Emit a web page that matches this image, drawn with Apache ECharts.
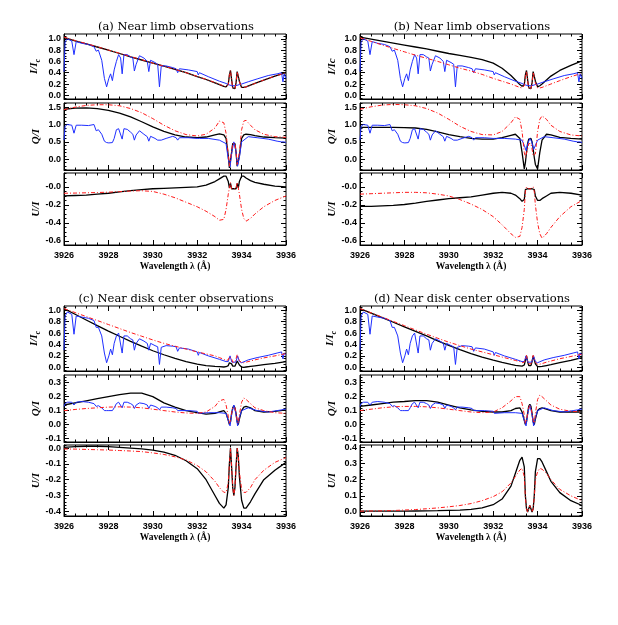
<!DOCTYPE html>
<html>
<head>
<meta charset="utf-8">
<script src="https://cdn.jsdelivr.net/npm/echarts@6/dist/echarts.min.js"></script>
<style>
html, body { margin: 0; padding: 0; background: #fff; }
#main { width: 618px; height: 625px; }
</style>
</head>
<body>
<div id="main"></div>
<script>
// wavelength grid for the model curves (denser in the Ca II K core)
var wl = [3926, 3926.5, 3927, 3927.5, 3928, 3928.5, 3929, 3929.5, 3930, 3930.5, 3931, 3931.5,
  3932, 3932.4, 3932.8, 3933.0, 3933.2, 3933.3, 3933.4, 3933.45, 3933.5, 3933.55, 3933.6,
  3933.65, 3933.7, 3933.75, 3933.8, 3933.85, 3933.9, 3934.0, 3934.1, 3934.2, 3934.4, 3934.6,
  3935, 3935.5, 3936];

// wavelength grid for the observed profiles
var obsWl = [3926.0, 3926.05, 3926.15, 3926.35, 3926.45, 3926.55, 3926.8, 3927.1, 3927.35, 3927.45,
  3927.55, 3927.7, 3927.82, 3927.92, 3928.02, 3928.1, 3928.18, 3928.26, 3928.36, 3928.46,
  3928.55, 3928.62, 3928.7, 3928.85, 3929.0, 3929.1, 3929.17, 3929.25, 3929.4, 3929.6,
  3929.75, 3929.82, 3929.9, 3930.1, 3930.22, 3930.3, 3930.38, 3930.6, 3930.9, 3931.05,
  3931.12, 3931.2, 3931.6, 3932.0, 3932.05, 3932.1, 3932.5, 3933.0, 3933.3, 3933.4,
  3933.48, 3933.56, 3933.65, 3933.74, 3933.82, 3933.9, 3934.0, 3934.3, 3934.7, 3935.2,
  3935.6, 3935.8, 3935.86, 3935.92, 3936.0];

// observations (blue)
var obsILimb = [0.42, 0.95, 1.0, 0.96, 0.72, 0.95, 0.92, 0.9, 0.86, 0.78,
  0.8, 0.62, 0.3, 0.15, 0.3, 0.38, 0.26, 0.45, 0.6, 0.72,
  0.66, 0.38, 0.72, 0.72, 0.68, 0.66, 0.43, 0.55, 0.7, 0.66,
  0.6, 0.42, 0.62, 0.58, 0.55, 0.15, 0.52, 0.52, 0.49, 0.47,
  0.4, 0.47, 0.45, 0.42, 0.36, 0.4, 0.33, 0.25, 0.21, 0.19,
  0.2, 0.17, 0.16, 0.17, 0.2, 0.19, 0.2, 0.24, 0.29, 0.35,
  0.38, 0.40, 0.24, 0.38, 0.30];
var obsQLimbA = [0.55, 0.95, 1.0, 0.98, 0.75, 0.98, 0.98, 0.97, 1.0, 0.82,
  0.85, 0.72, 0.52, 0.48, 0.47, 0.5, 0.48, 0.6, 0.85, 0.88,
  0.85, 0.58, 0.88, 0.86, 0.78, 0.72, 0.55, 0.7, 0.82, 0.72,
  0.65, 0.52, 0.66, 0.6, 0.55, 0.5, 0.55, 0.6, 0.66, 0.62,
  0.55, 0.62, 0.62, 0.6, 0.56, 0.6, 0.6, 0.55, 0.45, 0.0,
  -0.22, 0.2, 0.5, 0.25, -0.2, 0.05, 0.5, 0.65, 0.62, 0.58,
  0.52, 0.5, 0.45, 0.5, 0.48];
var obsQLimbB = [0.55, 0.95, 1.0, 0.98, 0.75, 0.98, 0.98, 0.97, 1.0, 0.82,
  0.85, 0.72, 0.52, 0.48, 0.47, 0.5, 0.48, 0.6, 0.85, 0.88,
  0.85, 0.58, 0.88, 0.86, 0.78, 0.72, 0.55, 0.7, 0.82, 0.72,
  0.65, 0.52, 0.66, 0.6, 0.55, 0.5, 0.55, 0.6, 0.66, 0.62,
  0.55, 0.62, 0.62, 0.6, 0.56, 0.6, 0.6, 0.58, 0.55, 0.4,
  0.25, 0.45, 0.6, 0.5, 0.28, 0.3, 0.55, 0.65, 0.62, 0.58,
  0.52, 0.5, 0.45, 0.5, 0.48];
var obsIDisk = [0.3, 0.9, 0.97, 0.93, 0.58, 0.9, 0.88, 0.86, 0.82, 0.7,
  0.7, 0.55, 0.25, 0.08, 0.2, 0.32, 0.22, 0.42, 0.55, 0.6,
  0.58, 0.25, 0.55, 0.55, 0.5, 0.48, 0.3, 0.42, 0.5, 0.46,
  0.42, 0.3, 0.42, 0.38, 0.36, 0.05, 0.35, 0.38, 0.37, 0.36,
  0.28, 0.34, 0.32, 0.27, 0.21, 0.26, 0.2, 0.14, 0.1, 0.1,
  0.2, 0.09, 0.06, 0.09, 0.2, 0.1, 0.08, 0.13, 0.17, 0.21,
  0.25, 0.27, 0.15, 0.25, 0.22];
var obsQDisk = [0.13, 0.15, 0.16, 0.16, 0.14, 0.16, 0.165, 0.16, 0.15, 0.13,
  0.135, 0.12, 0.1, 0.1, 0.1, 0.11, 0.1, 0.12, 0.15, 0.16,
  0.15, 0.12, 0.16, 0.16, 0.15, 0.14, 0.115, 0.14, 0.155, 0.15,
  0.14, 0.115, 0.14, 0.13, 0.12, 0.105, 0.125, 0.125, 0.12, 0.115,
  0.1, 0.11, 0.1, 0.095, 0.08, 0.09, 0.085, 0.085, 0.08, 0.03,
  -0.01, 0.08, 0.14, 0.08, -0.01, 0.05, 0.1, 0.12, 0.1, 0.09,
  0.1, 0.105, 0.1, 0.11, 0.11];

// models: I/Ic
var aIBlack = [1.02, 0.965, 0.91, 0.855, 0.80, 0.74, 0.68, 0.625, 0.57, 0.515, 0.46, 0.40, 0.33, 0.28, 0.22, 0.19, 0.16, 0.15, 0.2, 0.36, 0.44, 0.28, 0.13, 0.1, 0.12, 0.22, 0.42, 0.43, 0.25, 0.14, 0.14, 0.15, 0.18, 0.21, 0.27, 0.34, 0.40];
var aIRed   = [1.03, 0.97, 0.915, 0.86, 0.80, 0.745, 0.685, 0.63, 0.57, 0.515, 0.46, 0.40, 0.335, 0.285, 0.225, 0.195, 0.165, 0.15, 0.19, 0.35, 0.44, 0.27, 0.13, 0.1, 0.12, 0.22, 0.42, 0.43, 0.24, 0.14, 0.14, 0.15, 0.18, 0.21, 0.27, 0.34, 0.40];
var bIBlack = [1.03, 0.995, 0.96, 0.925, 0.89, 0.855, 0.82, 0.78, 0.74, 0.705, 0.67, 0.63, 0.57, 0.48, 0.35, 0.27, 0.19, 0.16, 0.19, 0.36, 0.44, 0.28, 0.13, 0.1, 0.12, 0.22, 0.42, 0.43, 0.25, 0.15, 0.17, 0.2, 0.27, 0.34, 0.44, 0.53, 0.61];
var bIRed   = [1.02, 0.955, 0.89, 0.83, 0.77, 0.71, 0.655, 0.6, 0.54, 0.48, 0.43, 0.37, 0.30, 0.25, 0.2, 0.17, 0.14, 0.13, 0.17, 0.33, 0.43, 0.26, 0.12, 0.1, 0.12, 0.21, 0.41, 0.42, 0.22, 0.13, 0.13, 0.14, 0.17, 0.2, 0.26, 0.33, 0.39];
var cIBlack = [1.03, 0.93, 0.83, 0.73, 0.635, 0.545, 0.455, 0.37, 0.29, 0.22, 0.155, 0.1, 0.055, 0.03, 0.015, 0.01, 0.005, 0.01, 0.03, 0.08, 0.11, 0.06, 0.02, 0.01, 0.02, 0.05, 0.11, 0.1, 0.04, 0.005, 0.0, 0.005, 0.015, 0.025, 0.045, 0.07, 0.10];
var cIRed   = [1.03, 0.96, 0.89, 0.82, 0.75, 0.68, 0.61, 0.545, 0.48, 0.42, 0.37, 0.32, 0.27, 0.235, 0.2, 0.17, 0.14, 0.12, 0.13, 0.19, 0.22, 0.15, 0.09, 0.08, 0.09, 0.15, 0.22, 0.2, 0.12, 0.08, 0.08, 0.09, 0.11, 0.13, 0.165, 0.2, 0.24];
var dIBlack = [1.03, 0.95, 0.87, 0.79, 0.71, 0.63, 0.55, 0.465, 0.385, 0.31, 0.24, 0.18, 0.125, 0.085, 0.05, 0.035, 0.025, 0.02, 0.04, 0.12, 0.2, 0.1, 0.03, 0.02, 0.03, 0.1, 0.2, 0.19, 0.06, 0.01, 0.01, 0.015, 0.03, 0.045, 0.08, 0.12, 0.17];
var dIRed   = [1.03, 0.955, 0.88, 0.805, 0.73, 0.655, 0.58, 0.51, 0.44, 0.38, 0.32, 0.27, 0.22, 0.18, 0.14, 0.12, 0.1, 0.08, 0.09, 0.15, 0.21, 0.12, 0.06, 0.05, 0.06, 0.12, 0.21, 0.2, 0.09, 0.05, 0.055, 0.065, 0.09, 0.11, 0.15, 0.19, 0.23];

// models: Q/I
var aQBlack = [1.44, 1.47, 1.48, 1.46, 1.41, 1.33, 1.22, 1.08, 0.93, 0.8, 0.7, 0.64, 0.62, 0.64, 0.7, 0.73, 0.7, 0.6, 0.1, -0.25, -0.2, 0.2, 0.45, 0.5, 0.45, 0.2, -0.2, -0.25, 0.1, 0.6, 0.7, 0.72, 0.71, 0.68, 0.64, 0.62, 0.61];
var aQRed   = [1.43, 1.5, 1.55, 1.57, 1.57, 1.54, 1.46, 1.34, 1.17, 0.98, 0.82, 0.71, 0.67, 0.72, 0.9, 1.1, 1.05, 0.75, 0.15, -0.2, -0.15, 0.22, 0.45, 0.5, 0.45, 0.22, -0.15, -0.2, 0.2, 0.85, 1.1, 1.12, 0.98, 0.85, 0.72, 0.65, 0.63];
var bQBlack = [0.92, 0.92, 0.92, 0.92, 0.91, 0.9, 0.86, 0.79, 0.71, 0.65, 0.6, 0.58, 0.58, 0.62, 0.69, 0.72, 0.6, 0.2, -0.28, -0.1, 0.2, 0.45, 0.58, 0.62, 0.6, 0.5, 0.3, 0.05, -0.15, -0.28, 0.2, 0.55, 0.72, 0.7, 0.63, 0.6, 0.58];
var bQRed   = [1.44, 1.51, 1.56, 1.58, 1.57, 1.54, 1.46, 1.33, 1.15, 0.95, 0.8, 0.71, 0.7, 0.8, 1.05, 1.22, 1.15, 0.8, 0.2, 0.05, 0.1, 0.3, 0.45, 0.5, 0.45, 0.3, 0.1, 0.05, 0.15, 0.8, 1.15, 1.25, 1.15, 0.98, 0.8, 0.7, 0.67];
var cQBlack = [0.14, 0.155, 0.17, 0.185, 0.2, 0.215, 0.225, 0.225, 0.2, 0.155, 0.125, 0.1, 0.085, 0.075, 0.08, 0.09, 0.1, 0.08, 0.03, 0.0, 0.02, 0.08, 0.12, 0.135, 0.12, 0.08, 0.02, 0.0, 0.04, 0.1, 0.125, 0.13, 0.12, 0.1, 0.09, 0.095, 0.105];
var cQRed   = [0.1, 0.108, 0.115, 0.12, 0.125, 0.127, 0.125, 0.12, 0.11, 0.1, 0.09, 0.083, 0.08, 0.09, 0.13, 0.17, 0.18, 0.14, 0.06, 0.01, 0.03, 0.08, 0.12, 0.13, 0.12, 0.08, 0.03, 0.01, 0.07, 0.16, 0.19, 0.18, 0.15, 0.12, 0.1, 0.085, 0.08];
var dQBlack = [0.13, 0.14, 0.15, 0.16, 0.165, 0.172, 0.172, 0.16, 0.14, 0.12, 0.105, 0.095, 0.09, 0.09, 0.1, 0.115, 0.12, 0.09, 0.03, 0.0, 0.02, 0.08, 0.13, 0.145, 0.13, 0.08, 0.02, 0.0, 0.04, 0.1, 0.115, 0.12, 0.11, 0.1, 0.09, 0.09, 0.09];
var dQRed   = [0.1, 0.11, 0.12, 0.127, 0.13, 0.13, 0.127, 0.12, 0.11, 0.1, 0.09, 0.085, 0.09, 0.12, 0.17, 0.2, 0.2, 0.15, 0.07, 0.01, 0.03, 0.08, 0.12, 0.14, 0.12, 0.08, 0.03, 0.01, 0.08, 0.18, 0.21, 0.2, 0.17, 0.14, 0.11, 0.095, 0.09];

// models: U/I
var aUBlack = [-0.1, -0.095, -0.09, -0.08, -0.07, -0.055, -0.04, -0.03, -0.02, -0.015, -0.01, -0.005, 0.0, 0.02, 0.06, 0.09, 0.12, 0.12, 0.06, -0.01, 0.04, -0.02, -0.02, -0.02, -0.02, -0.02, 0.04, -0.01, 0.06, 0.12, 0.12, 0.1, 0.07, 0.05, 0.03, 0.01, 0.0];
var aURed   = [-0.07, -0.068, -0.065, -0.062, -0.058, -0.052, -0.045, -0.042, -0.05, -0.08, -0.12, -0.17, -0.22, -0.27, -0.33, -0.37, -0.36, -0.25, -0.08, -0.01, 0.05, -0.02, -0.02, -0.02, -0.02, -0.02, 0.05, -0.01, -0.08, -0.25, -0.35, -0.38, -0.35, -0.3, -0.22, -0.15, -0.1];
var bUBlack = [-0.215, -0.215, -0.21, -0.205, -0.195, -0.18, -0.16, -0.145, -0.13, -0.12, -0.11, -0.09, -0.07, -0.06, -0.07, -0.09, -0.13, -0.16, -0.14, -0.03, -0.02, -0.02, -0.02, -0.02, -0.02, -0.02, -0.02, -0.03, -0.1, -0.15, -0.15, -0.13, -0.1, -0.07, -0.06, -0.07, -0.09];
var bURed   = [-0.08, -0.075, -0.07, -0.065, -0.06, -0.06, -0.065, -0.08, -0.1, -0.14, -0.19, -0.25, -0.33, -0.42, -0.52, -0.56, -0.55, -0.45, -0.25, -0.05, 0.0, -0.02, -0.02, -0.02, -0.02, -0.02, 0.0, -0.05, -0.2, -0.4, -0.52, -0.57, -0.52, -0.45, -0.33, -0.22, -0.15];
var cUBlack = [0.005, 0.01, 0.012, 0.012, 0.01, 0.005, 0.0, -0.005, -0.012, -0.025, -0.045, -0.08, -0.13, -0.2, -0.3, -0.35, -0.38, -0.36, -0.25, -0.1, 0.0, -0.12, -0.25, -0.3, -0.25, -0.12, 0.0, -0.05, -0.18, -0.33, -0.38, -0.38, -0.34, -0.29, -0.2, -0.14, -0.09];
var cURed   = [-0.005, -0.006, -0.008, -0.01, -0.012, -0.015, -0.018, -0.022, -0.03, -0.04, -0.055, -0.075, -0.11, -0.15, -0.21, -0.25, -0.28, -0.28, -0.22, -0.1, 0.0, -0.12, -0.25, -0.3, -0.25, -0.12, 0.0, -0.05, -0.15, -0.26, -0.28, -0.28, -0.25, -0.2, -0.14, -0.09, -0.06];
var dUBlack = [0.005, 0.005, 0.005, 0.005, 0.005, 0.006, 0.007, 0.008, 0.01, 0.012, 0.016, 0.025, 0.045, 0.08, 0.16, 0.24, 0.32, 0.34, 0.28, 0.1, 0.02, 0.0, 0.02, 0.04, 0.02, 0.0, 0.02, 0.1, 0.25, 0.33, 0.33, 0.31, 0.25, 0.19, 0.12, 0.07, 0.04];
var dURed   = [0.005, 0.006, 0.007, 0.009, 0.012, 0.015, 0.02, 0.025, 0.032, 0.04, 0.052, 0.07, 0.095, 0.125, 0.18, 0.22, 0.26, 0.27, 0.22, 0.09, 0.02, 0.0, 0.02, 0.04, 0.02, 0.0, 0.02, 0.09, 0.2, 0.25, 0.27, 0.265, 0.24, 0.2, 0.14, 0.1, 0.07];

// tick labels
var iTicks = [0, 0.2, 0.4, 0.6, 0.8, 1.0];
var qLimbTicks = [0, 0.5, 1.0, 1.5];
var uLimbTicks = [-0.6, -0.4, -0.2, 0];
var qDiskTicks = [-0.1, 0, 0.1, 0.2, 0.3];
var uCTicks = [-0.4, -0.3, -0.2, -0.1, 0];
var uDTicks = [0, 0.1, 0.2, 0.3, 0.4];

var titles = ['(a) Near limb observations', '(b) Near limb observations',
  '(c) Near disk center observations', '(d) Near disk center observations'];

var chart = echarts.init(document.getElementById('main'), null, {renderer: 'canvas'});

var IC = '{i|I/I}{s|c}';
var panels = [
  {left: 64, top: 34, title: titles[0], subs: [
    {h: 65, min: -0.065, max: 1.085, ticks: iTicks, minor: 0.05, name: IC, lines: [[wl, aIBlack, 'k'], [obsWl, obsILimb, 'b'], [wl, aIRed, 'r']]},
    {h: 67, gap: 4, min: -0.31, max: 1.62, ticks: qLimbTicks, minor: 0.1, name: '{i|Q/I}', lines: [[wl, aQBlack, 'k'], [obsWl, obsQLimbA, 'b'], [wl, aQRed, 'r']]},
    {h: 72, gap: 3, min: -0.645, max: 0.155, ticks: uLimbTicks, minor: 0.05, zero: '-0.0', name: '{i|U/I}', lines: [[wl, aUBlack, 'k'], [wl, aURed, 'r']]}
  ]},
  {left: 360, top: 34, title: titles[1], subs: [
    {h: 65, min: -0.065, max: 1.085, ticks: iTicks, minor: 0.05, name: '{i|I/Ic}', lines: [[wl, bIBlack, 'k'], [obsWl, obsILimb, 'b'], [wl, bIRed, 'r']]},
    {h: 67, gap: 4, min: -0.31, max: 1.62, ticks: qLimbTicks, minor: 0.1, name: '{i|Q/I}', lines: [[wl, bQBlack, 'k'], [obsWl, obsQLimbB, 'b'], [wl, bQRed, 'r']]},
    {h: 72, gap: 3, min: -0.645, max: 0.155, ticks: uLimbTicks, minor: 0.05, zero: '-0.0', name: '{i|U/I}', lines: [[wl, bUBlack, 'k'], [wl, bURed, 'r']]}
  ]},
  {left: 64, top: 306, title: titles[2], subs: [
    {h: 65, min: -0.065, max: 1.075, ticks: iTicks, minor: 0.05, name: IC, lines: [[wl, cIBlack, 'k'], [obsWl, obsIDisk, 'b'], [wl, cIRed, 'r']]},
    {h: 67, gap: 4, min: -0.125, max: 0.355, ticks: qDiskTicks, minor: 0.02, name: '{i|Q/I}', lines: [[wl, cQBlack, 'k'], [obsWl, obsQDisk, 'b'], [wl, cQRed, 'r']]},
    {h: 71, gap: 3, min: -0.43, max: 0.02, ticks: uCTicks, minor: 0.02, name: '{i|U/I}', lines: [[wl, cUBlack, 'k'], [wl, cURed, 'r']]}
  ]},
  {left: 360, top: 306, title: titles[3], subs: [
    {h: 65, min: -0.065, max: 1.075, ticks: iTicks, minor: 0.05, name: IC, lines: [[wl, dIBlack, 'k'], [obsWl, obsIDisk, 'b'], [wl, dIRed, 'r']]},
    {h: 67, gap: 4, min: -0.125, max: 0.355, ticks: qDiskTicks, minor: 0.02, name: '{i|Q/I}', lines: [[wl, dQBlack, 'k'], [obsWl, obsQDisk, 'b'], [wl, dQRed, 'r']]},
    {h: 71, gap: 3, min: -0.025, max: 0.415, ticks: uDTicks, minor: 0.02, name: '{i|U/I}', lines: [[wl, dUBlack, 'k'], [wl, dURed, 'r']]}
  ]}
];

function minorValues(min, max, step) {
  var out = [];
  for (var k = Math.ceil(min / step - 1e-6); k * step <= max + 1e-9; k++) out.push(+(k * step).toFixed(4));
  return out;
}

var W = 222;
var grids = [], xAxes = [], yAxes = [], series = [], texts = [];
var xTop = [], yExtra = [];
var styles = {
  k: {color: '#000', width: 1.3, type: 'solid'},
  b: {color: '#1f2fff', width: 1, type: 'solid'},
  r: {color: '#ff1a1a', width: 1, type: [4, 2, 1, 2]}
};
var tickFont = {fontFamily: 'Liberation Sans', fontWeight: 'bold', fontSize: 9, color: '#000'};
var blackLine = {color: '#000'};

panels.forEach(function (p) {
  var y = p.top;
  texts.push({type: 'text', x: p.left + W / 2 + 1, y: p.top - 7,
    style: {text: p.title, textAlign: 'center', textVerticalAlign: 'middle',
      font: '11.5px "DejaVu Serif"', fill: '#000'}});
  p.subs.forEach(function (s, j) {
    if (j > 0) y += s.gap;
    var gi = grids.length;
    var last = j === 2;
    grids.push({left: p.left, top: y, width: W, height: s.h, show: true,
      borderColor: '#000', borderWidth: 1, backgroundColor: 'transparent'});
    xAxes.push({type: 'value', gridIndex: gi, min: 3926, max: 3936, interval: 2,
      axisLine: {show: true, onZero: false, lineStyle: blackLine},
      axisTick: {show: true, inside: true, length: 5, lineStyle: blackLine},
      minorTick: {show: true, splitNumber: 4, length: 2.5, lineStyle: blackLine},
      splitLine: {show: false},
      axisLabel: Object.assign({show: last, margin: 6, formatter: function (v) { return String(v); }}, tickFont),
      name: last ? 'Wavelength \u03bb (\u00c5)' : '', nameLocation: 'middle', nameGap: 17,
      nameTextStyle: {fontFamily: 'Liberation Serif', fontWeight: 'bold', fontSize: 9.5, color: '#000'}
    });
    xTop.push({type: 'value', gridIndex: gi, position: 'top', min: 3926, max: 3936, interval: 2,
      axisLine: {show: false, onZero: false}, axisLabel: {show: false}, splitLine: {show: false},
      axisTick: {show: true, inside: true, length: 5, lineStyle: blackLine},
      minorTick: {show: true, splitNumber: 4, length: 2.5, lineStyle: blackLine}
    });
    var zero = s.zero || '0.0';
    yAxes.push({type: 'value', gridIndex: gi, min: s.min, max: s.max,
      axisLine: {show: true, onZero: false, lineStyle: blackLine},
      axisTick: {show: true, inside: true, length: 5, customValues: s.ticks, lineStyle: blackLine},
      splitLine: {show: false},
      axisLabel: Object.assign({show: true, margin: 3, customValues: s.ticks,
        formatter: function (v) { return Math.abs(v) < 1e-9 ? zero : v.toFixed(1); }}, tickFont),
      name: s.name, nameLocation: 'middle', nameGap: 22, nameRotate: 90,
      nameTextStyle: {rich: {
        i: {fontFamily: 'Liberation Serif', fontStyle: 'italic', fontWeight: 'bold', fontSize: 11, color: '#000'},
        s: {fontFamily: 'Liberation Serif', fontStyle: 'italic', fontWeight: 'bold', fontSize: 7.5, color: '#000', verticalAlign: 'bottom', lineHeight: 16}
      }}
    });
    var minors = minorValues(s.min, s.max, s.minor);
    // right-hand major ticks, then minor ticks on both sides
    [['right', s.ticks, 5], ['left', minors, 2.5], ['right', minors, 2.5]].forEach(function (t) {
      yExtra.push({type: 'value', gridIndex: gi, position: t[0], min: s.min, max: s.max,
        axisLine: {show: false, onZero: false}, axisLabel: {show: false}, splitLine: {show: false},
        axisTick: {show: true, inside: true, length: t[2], customValues: t[1], lineStyle: blackLine}
      });
    });
    s.lines.forEach(function (ln) {
      var data = ln[0].map(function (x, k) { return [x, ln[1][k]]; });
      series.push({type: 'line', xAxisIndex: gi, yAxisIndex: gi, data: data,
        showSymbol: false, symbol: 'none', smooth: false, silent: true, clip: true,
        lineStyle: styles[ln[2]]});
    });
    y += s.h;
  });
});

// secondary axes only carry the inward ticks of each box
xTop.forEach(function (a) { xAxes.push(a); });
yExtra.forEach(function (a) { yAxes.push(a); });

chart.setOption({
  animation: false,
  backgroundColor: '#fff',
  grid: grids,
  xAxis: xAxes,
  yAxis: yAxes,
  series: series,
  graphic: texts
});
</script>
</body>
</html>
